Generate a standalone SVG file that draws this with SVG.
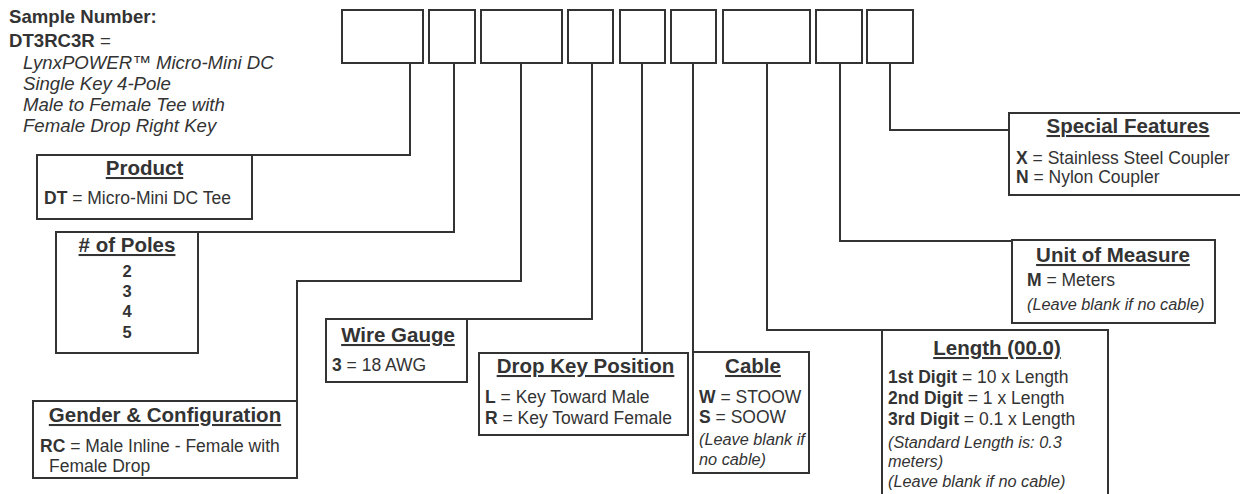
<svg xmlns="http://www.w3.org/2000/svg" width="1240" height="494" viewBox="0 0 1240 494">
<style>
text{font-family:"Liberation Sans",Arial,Helvetica,sans-serif;fill:#333;font-size:17.5px}
.b{font-weight:bold}
.i{font-style:italic;font-size:16.3px}
.s{font-size:18.6px}
.si{font-style:italic;font-size:18.6px}
.t{font-weight:bold;font-size:20.5px;text-anchor:middle;text-decoration:underline}
.n{font-weight:bold;font-size:16.5px;text-anchor:middle}
.box{fill:#fff;stroke:#333;stroke-width:2}
.c{fill:none;stroke:#333;stroke-width:2}
</style>
<rect width="1240" height="494" fill="#fff"/>
<g id="sample">
<text x="9" y="23" class="s b">Sample Number:</text>
<text x="9" y="47" class="s"><tspan class="b">DT3RC3R</tspan> =</text>
<text x="23" y="69" class="si">LynxPOWER™ Micro-Mini DC</text>
<text x="23" y="90" class="si">Single Key 4-Pole</text>
<text x="23" y="111" class="si">Male to Female Tee with</text>
<text x="23" y="132" class="si">Female Drop Right Key</text>
</g>
<g id="code-boxes">
<rect class="box" x="342" y="10" width="81" height="53"/>
<rect class="box" x="429" y="10" width="46" height="53"/>
<rect class="box" x="481" y="10" width="81" height="53"/>
<rect class="box" x="568" y="10" width="45" height="53"/>
<rect class="box" x="620" y="10" width="45" height="53"/>
<rect class="box" x="671" y="10" width="45" height="53"/>
<rect class="box" x="723" y="10" width="87" height="53"/>
<rect class="box" x="816" y="10" width="46" height="53"/>
<rect class="box" x="867" y="10" width="46" height="53"/>
</g>
<g id="connectors">
<path class="c" d="M410,63 V155 H252"/>
<path class="c" d="M454,63 V232 H198"/>
<path class="c" d="M521,63 V281 H297 V401"/>
<path class="c" d="M592,63 V319 H467"/>
<path class="c" d="M642,63 V353"/>
<path class="c" d="M693,63 V352"/>
<path class="c" d="M767,63 V330 H882"/>
<path class="c" d="M840,63 V241 H1012"/>
<path class="c" d="M890,63 V130 H1009"/>
</g>
<g id="product">
<rect class="box" x="37" y="155" width="215" height="64"/>
<text x="144.5" y="175" class="t">Product</text>
<text x="44" y="204"><tspan class="b">DT</tspan> = Micro-Mini DC Tee</text>
</g>
<g id="poles">
<rect class="box" x="56" y="232" width="142" height="121"/>
<text x="127" y="252" class="t"># of Poles</text>
<text x="127" y="277" class="n">2</text>
<text x="127" y="297" class="n">3</text>
<text x="127" y="317" class="n">4</text>
<text x="127" y="338" class="n">5</text>
</g>
<g id="gender">
<rect class="box" x="33" y="401" width="264" height="77"/>
<text x="165" y="422" class="t">Gender &amp; Configuration</text>
<text x="40" y="452"><tspan class="b">RC</tspan> = Male Inline - Female with</text>
<text x="49" y="472">Female Drop</text>
</g>
<g id="wire-gauge">
<rect class="box" x="326" y="319" width="141" height="63"/>
<text x="398" y="342" class="t">Wire Gauge</text>
<text x="332" y="371"><tspan class="b">3</tspan> = 18 AWG</text>
</g>
<g id="drop-key">
<rect class="box" x="479" y="353" width="209" height="82"/>
<text x="585.5" y="373" class="t">Drop Key Position</text>
<text x="485" y="403"><tspan class="b">L</tspan> = Key Toward Male</text>
<text x="485" y="424"><tspan class="b">R</tspan> = Key Toward Female</text>
</g>
<g id="cable">
<rect class="box" x="693" y="352" width="116" height="121"/>
<text x="753" y="373" class="t">Cable</text>
<text x="699" y="403"><tspan class="b">W</tspan> = STOOW</text>
<text x="699" y="423"><tspan class="b">S</tspan> = SOOW</text>
<text x="699" y="445" class="i">(Leave blank if</text>
<text x="699" y="465" class="i">no cable)</text>
</g>
<g id="length">
<rect class="box" x="882" y="330" width="226" height="170"/>
<text x="997" y="355" class="t">Length (00.0)</text>
<text x="888" y="383"><tspan class="b">1st Digit</tspan> = 10 x Length</text>
<text x="888" y="404"><tspan class="b">2nd Digit</tspan> = 1 x Length</text>
<text x="888" y="425"><tspan class="b">3rd Digit</tspan> = 0.1 x Length</text>
<text x="888" y="448" class="i">(Standard Length is: 0.3</text>
<text x="888" y="467" class="i">meters)</text>
<text x="888" y="487" class="i">(Leave blank if no cable)</text>
</g>
<g id="unit">
<rect class="box" x="1012" y="240" width="203" height="83"/>
<text x="1113" y="262" class="t">Unit of Measure</text>
<text x="1027" y="286"><tspan class="b">M</tspan> = Meters</text>
<text x="1027" y="310" class="i">(Leave blank if no cable)</text>
</g>
<g id="special">
<rect class="box" x="1009" y="113" width="238" height="82"/>
<text x="1128" y="133" class="t">Special Features</text>
<text x="1016" y="164"><tspan class="b">X</tspan> = Stainless Steel Coupler</text>
<text x="1016" y="183"><tspan class="b">N</tspan> = Nylon Coupler</text>
</g>
</svg>
